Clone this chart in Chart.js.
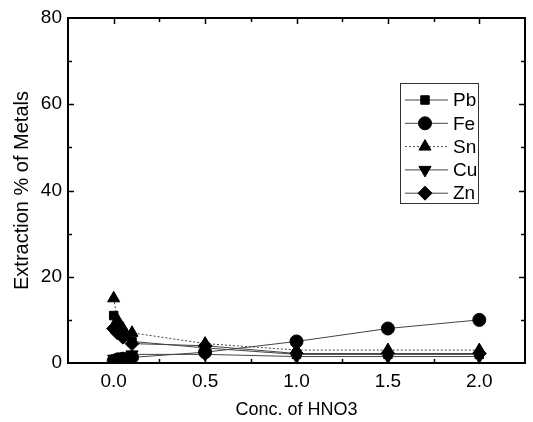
<!DOCTYPE html>
<html>
<head>
<meta charset="utf-8">
<script src="https://cdn.jsdelivr.net/npm/chart.js@4/dist/chart.umd.min.js"></script>
<style>
html,body{margin:0;padding:0;background:#fff;}
#wrap{width:533px;height:422px;position:relative;}
</style>
</head>
<body>
<div id="wrap"><canvas id="c" width="533" height="422"></canvas></div>
<script>
const concentrations = [0, 0.02, 0.05, 0.1, 0.5, 1.0, 1.5, 2.0];
const metalNames = ["Pb", "Fe", "Sn", "Cu", "Zn"];
const pbValues = [11, 9, 7, 5, 3.5, 2, 2, 2];
const feValues = [0.5, 0.8, 1, 1.3, 2.5, 5, 8, 10];
const snValues = [15, 10, 8, 7, 4.5, 3, 3, 3];
const cuValues = [1, 1, 1.5, 2, 2, 1.5, 1.5, 1.5];
const znValues = [8, 7, 6, 4.5, 4, 2.2, 2.2, 2.2];
const xTickValues = [0, 0.5, 1.0, 1.5, 2.0];
const yTickValues = [0, 20, 40, 60, 80];

const FONT = '"Liberation Sans", Arial, sans-serif';
const seriesValues = [pbValues, feValues, snValues, cuValues, znValues];
const markerStyles = ["rect", "circle", "triangle", "triangle", "rectRot"];
const markerRotations = [0, 0, 0, 180, 0];
const markerRadii = [6, 6.5, 7, 7, 7];
const dashStyles = [[], [], [2, 2], [], []];

const datasets = metalNames.map((name, i) => ({
  label: name,
  data: concentrations.map((x, j) => ({x: x, y: seriesValues[i][j]})),
  borderColor: '#444',
  borderWidth: 1,
  borderDash: dashStyles[i],
  backgroundColor: '#000',
  pointBackgroundColor: '#000',
  pointBorderColor: '#000',
  pointStyle: markerStyles[i],
  rotation: markerRotations[i],
  pointRadius: markerRadii[i],
  pointBorderWidth: 1,
  showLine: true,
  tension: 0
}));

const framePlugin = {
  id: 'frame',
  afterDraw(chart) {
    const ctx = chart.ctx, a = chart.chartArea;
    const xs = chart.scales.x, ys = chart.scales.y;
    ctx.save();
    ctx.strokeStyle = '#000';
    ctx.lineWidth = 2;
    ctx.strokeRect(a.left, a.top, a.right - a.left, a.bottom - a.top);
    ctx.lineWidth = 1.5;
    for (let v = 10; v < 80; v += 10) {
      const y = Math.round(ys.getPixelForValue(v)) + 0.5;
      const len = (v % 20 === 0) ? 6 : 4;
      ctx.beginPath();
      ctx.moveTo(a.left, y); ctx.lineTo(a.left + len, y);
      ctx.moveTo(a.right, y); ctx.lineTo(a.right - len, y);
      ctx.stroke();
    }
    for (let v = -0.25; v <= 2.25; v += 0.25) {
      const x = Math.round(xs.getPixelForValue(v)) + 0.5;
      if (x <= a.left + 1 || x >= a.right - 1) continue;
      const major = Math.abs(v * 2 - Math.round(v * 2)) < 1e-6;
      const len = major ? 6 : 4;
      ctx.beginPath();
      ctx.moveTo(x, a.bottom); ctx.lineTo(x, a.bottom - len);
      ctx.moveTo(x, a.top); ctx.lineTo(x, a.top + len);
      ctx.stroke();
    }
    // legend
    const lx = 400, ly = 83, lw = 78, lh = 120;
    ctx.lineWidth = 1;
    ctx.strokeStyle = '#333';
    ctx.strokeRect(lx + 0.5, ly + 0.5, lw, lh);
    ctx.font = '19px ' + FONT;
    ctx.textBaseline = 'middle';
    chart.data.datasets.forEach((ds, i) => {
      const cy = ly + 17 + i * 23.3;
      ctx.save();
      ctx.strokeStyle = '#444';
      ctx.lineWidth = 1;
      ctx.setLineDash(ds.borderDash || []);
      ctx.beginPath();
      ctx.moveTo(lx + 5, cy); ctx.lineTo(lx + 48, cy);
      ctx.stroke();
      ctx.restore();
      ctx.fillStyle = '#000';
      ctx.strokeStyle = '#000';
      ctx.lineWidth = 1;
      Chart.helpers.drawPoint(ctx, {
        pointStyle: ds.pointStyle, rotation: ds.rotation,
        radius: ds.pointRadius, borderWidth: 1
      }, lx + 25, cy);
      ctx.fillStyle = '#000';
      ctx.fillText(ds.label, lx + 53, cy + 1);
    });
    ctx.restore();
  }
};

new Chart(document.getElementById('c'), {
  type: 'scatter',
  data: {datasets: datasets},
  options: {
    responsive: false,
    animation: false,
    devicePixelRatio: 1,
    layout: {padding: {left: 0, top: 18, right: 6, bottom: 0}},
    plugins: {legend: {display: false}, tooltip: {enabled: false}},
    scales: {
      x: {
        type: 'linear',
        min: -0.25, max: 2.25,
        afterBuildTicks(s) { s.ticks = xTickValues.map(v => ({value: v})); },
        afterFit(s) { s.height = 59; },
        grid: {display: false, drawTicks: false},
        border: {display: false},
        ticks: {
          color: '#000', padding: 7,
          font: {size: 19, family: FONT},
          callback: v => Number(v).toFixed(1)
        },
        title: {
          display: true, text: 'Conc. of HNO3', color: '#000',
          font: {size: 18, family: FONT},
          padding: {top: 0, bottom: 1}
        }
      },
      y: {
        type: 'linear',
        min: 0, max: 80,
        afterBuildTicks(s) { s.ticks = yTickValues.map(v => ({value: v})); },
        afterFit(s) { s.width = 68; },
        grid: {display: false, drawTicks: false},
        border: {display: false},
        ticks: {
          color: '#000', padding: 6,
          font: {size: 19, family: FONT}
        },
        title: {
          display: true, text: 'Extraction % of Metals', color: '#000',
          font: {size: 20, family: FONT},
          padding: {top: 10, bottom: 0}
        }
      }
    }
  },
  plugins: [framePlugin]
});
</script>
</body>
</html>
